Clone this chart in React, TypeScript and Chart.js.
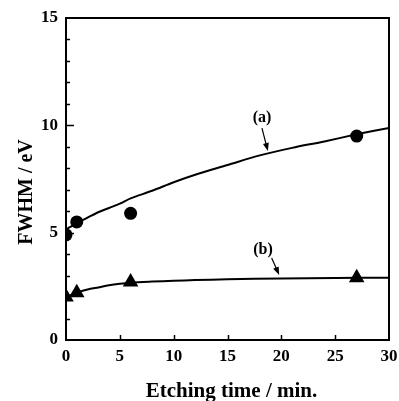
import { useEffect, useRef } from "react";
import { Chart, registerables } from "chart.js";

Chart.register(...registerables);

// Measured points
const measTimes = [0, 1, 6, 27];
const measA = [4.9, 5.5, 5.9, 9.5];
const measB = [2.0, 2.2, 2.7, 2.9];

// Fitted curves
const fitTimesA = [0, 1, 2, 3, 4, 5, 6, 8, 10, 12, 15, 18, 21, 24, 27, 30];
const fitA = [5.15, 5.45, 5.7, 5.95, 6.15, 6.35, 6.6, 6.95, 7.35, 7.7, 8.15, 8.6, 8.95, 9.25, 9.58, 9.88];
const fitTimesB = [0, 0.5, 1, 2, 3, 4, 5, 6, 8, 10, 12, 15, 20, 25, 30];
const fitB = [2.0, 2.1, 2.2, 2.35, 2.45, 2.55, 2.62, 2.67, 2.72, 2.76, 2.79, 2.83, 2.87, 2.89, 2.9];

const xTitle = "Etching time / min.";
const yTitle = "FWHM / eV";

// Annotation labels: text, label position, arrow start, arrow end (data coords)
const annLabels = ["(a)", "(b)"];
const annLabelX = [18.2, 18.3];
const annLabelY = [10.34, 4.19];
const annFromX = [18.2, 19.1];
const annFromY = [9.87, 3.82];
const annToX = [18.75, 19.8];
const annToY = [8.8, 3.03];

const FONT = "'Liberation Serif', 'Times New Roman', serif";

const toXY = (xs: number[], ys: number[]) => xs.map((x, i) => ({ x, y: ys[i] }));

const framePlugin = {
  id: "frame",
  afterDatasetsDraw(chart: any) {
    const { ctx, chartArea: a, scales } = chart;
    const xs = scales.x;
    const ys = scales.y;
    ctx.save();
    ctx.strokeStyle = "#000";
    ctx.fillStyle = "#000";
    ctx.lineWidth = 2;
    // ticks (inward)
    ctx.beginPath();
    for (let v = 1; v < 15; v++) {
      const py = Math.round(ys.getPixelForValue(v)) + 0.5;
      const len = v % 5 === 0 ? 8 : 4;
      ctx.moveTo(a.left, py);
      ctx.lineTo(a.left + len, py);
    }
    for (let v = 5; v < 30; v += 5) {
      const px = Math.round(xs.getPixelForValue(v)) + 0.5;
      ctx.moveTo(px, a.bottom);
      ctx.lineTo(px, a.bottom - 5);
    }
    ctx.lineWidth = 1.5;
    ctx.stroke();
    ctx.lineWidth = 2;
    ctx.strokeRect(a.left, a.top, a.right - a.left, a.bottom - a.top);

    // annotations
    ctx.font = `bold 16px ${FONT}`;
    ctx.textAlign = "center";
    ctx.textBaseline = "middle";
    annLabels.forEach((t, i) => {
      ctx.fillText(t, xs.getPixelForValue(annLabelX[i]), ys.getPixelForValue(annLabelY[i]));
      const x1 = xs.getPixelForValue(annFromX[i]);
      const y1 = ys.getPixelForValue(annFromY[i]);
      const x2 = xs.getPixelForValue(annToX[i]);
      const y2 = ys.getPixelForValue(annToY[i]);
      const ang = Math.atan2(y2 - y1, x2 - x1);
      const hl = 8;
      const hw = 3;
      ctx.lineWidth = 1.2;
      ctx.beginPath();
      ctx.moveTo(x1, y1);
      ctx.lineTo(x2 - Math.cos(ang) * hl * 0.8, y2 - Math.sin(ang) * hl * 0.8);
      ctx.stroke();
      ctx.beginPath();
      ctx.moveTo(x2, y2);
      ctx.lineTo(x2 - Math.cos(ang) * hl - Math.sin(ang) * hw, y2 - Math.sin(ang) * hl + Math.cos(ang) * hw);
      ctx.lineTo(x2 - Math.cos(ang) * hl + Math.sin(ang) * hw, y2 - Math.sin(ang) * hl - Math.cos(ang) * hw);
      ctx.closePath();
      ctx.fill();
    });

    // axis titles
    ctx.textBaseline = "alphabetic";
    ctx.font = `bold 21px ${FONT}`;
    ctx.textAlign = "center";
    ctx.fillText(xTitle, (a.left + a.right) / 2 + 4, 397);
    ctx.save();
    ctx.translate(32, 192);
    ctx.rotate(-Math.PI / 2);
    ctx.font = `bold 20px ${FONT}`;
    ctx.fillText(yTitle, 0, 0);
    ctx.restore();
    ctx.restore();
  },
};

export default function App() {
  const ref = useRef<HTMLCanvasElement>(null);
  useEffect(() => {
    const chart = new Chart(ref.current!, {
      type: "scatter",
      data: {
        datasets: [
          {
            data: toXY(fitTimesA, fitA),
            showLine: true,
            borderColor: "#000",
            borderWidth: 2,
            pointRadius: 0,
            tension: 0.3,
          },
          {
            data: toXY(fitTimesB, fitB),
            showLine: true,
            borderColor: "#000",
            borderWidth: 2,
            pointRadius: 0,
            tension: 0.3,
          },
          {
            data: toXY(measTimes, measA),
            pointStyle: "circle",
            pointRadius: 6.5,
            backgroundColor: "#000",
            borderColor: "#000",
            borderWidth: 0,
            clip: 0,
          },
          {
            data: toXY(measTimes, measB),
            pointStyle: "triangle",
            pointRadius: 9,
            backgroundColor: "#000",
            borderColor: "#000",
            borderWidth: 0,
            clip: 0,
          },
        ],
      },
      options: {
        animation: false,
        responsive: true,
        maintainAspectRatio: false,
        layout: { padding: { left: 0, top: 18, right: 10, bottom: 0 } },
        plugins: { legend: { display: false }, tooltip: { enabled: false } },
        scales: {
          x: {
            type: "linear",
            min: 0,
            max: 30,
            grid: { display: false, drawTicks: false },
            border: { display: false },
            ticks: {
              stepSize: 5,
              padding: 6,
              color: "#000",
              maxRotation: 0,
              font: { family: FONT, size: 17, weight: "bold" },
            },
            afterFit: (s: any) => {
              s.height = 61;
              s.paddingLeft = 0;
              s.paddingRight = 0;
            },
          },
          y: {
            type: "linear",
            min: 0,
            max: 15,
            grid: { display: false, drawTicks: false },
            border: { display: false },
            ticks: {
              stepSize: 5,
              padding: 8,
              color: "#000",
              font: { family: FONT, size: 17, weight: "bold" },
            },
            afterFit: (s: any) => {
              s.width = 66;
              s.paddingTop = 0;
              s.paddingBottom = 0;
            },
          },
        },
      },
      plugins: [framePlugin],
    } as any);
    return () => chart.destroy();
  }, []);
  return (
    <div style={{ position: "fixed", left: 0, top: 0, width: 399, height: 401 }}>
      <canvas ref={ref} />
    </div>
  );
}
